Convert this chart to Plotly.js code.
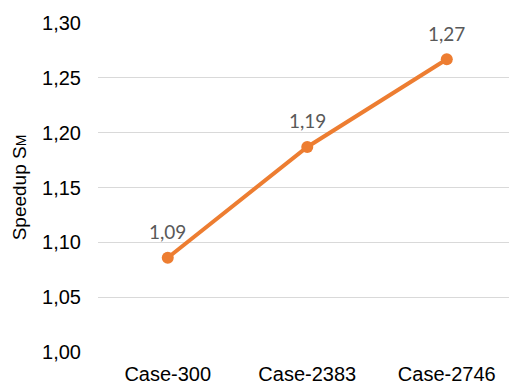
<!DOCTYPE html>
<html>
<head>
<meta charset="utf-8">
<script src="https://cdn.plot.ly/plotly-3.0.1.min.js"></script>
<style>html,body{margin:0;padding:0;background:#fff;}#chart{width:510px;height:386px;}</style>
</head>
<body>
<div id="chart"></div>
<script>
const categories = ["Case-300", "Case-2383", "Case-2746"];
const speedup = [1.086, 1.187, 1.267];
const yTicks = [1.00, 1.05, 1.10, 1.15, 1.20, 1.25, 1.30];

const trace = {
  x: categories,
  y: speedup,
  type: 'scatter',
  mode: 'lines+markers',
  line: {color: '#ED7D31', width: 4},
  marker: {color: '#ED7D31', size: 12},
  hoverinfo: 'none',
  cliponaxis: false
};

const fmt = v => v.toFixed(2).replace('.', ',');
const labels = categories.map((c, i) => ({
  x: c,
  y: speedup[i],
  xref: 'x',
  yref: 'y',
  text: fmt(speedup[i]),
  showarrow: false,
  xanchor: 'center',
  yanchor: 'middle',
  yshift: 26,
  font: {family: 'Lato, "Open Sans", sans-serif', size: 19, color: '#595959'}
}));

const layout = {
  width: 510,
  height: 386,
  margin: {l: 98, r: 1, t: 23, b: 34},
  paper_bgcolor: '#ffffff',
  plot_bgcolor: '#ffffff',
  separators: ', ',
  showlegend: false,
  font: {family: 'Arial, "Liberation Sans", sans-serif', color: '#000000'},
  annotations: labels,
  xaxis: {
    type: 'category',
    range: [-0.5, 2.446],
    showgrid: false,
    zeroline: false,
    showline: false,
    ticks: '',
    tickfont: {size: 20, color: '#000000'},
    ticklabelstandoff: 8
  },
  yaxis: {
    range: [1.0, 1.3001],
    tickvals: yTicks,
    tickformat: '.2f',
    showgrid: true,
    gridcolor: '#d9d9d9',
    gridwidth: 1,
    zeroline: false,
    showline: false,
    ticks: '',
    tickfont: {size: 20, color: '#000000'},
    ticklabelstandoff: 16,
    title: {
      text: 'Speedup S<span style="font-size:14px">M</span>',
      font: {size: 19, color: '#000000'},
      standoff: 10
    }
  }
};

Plotly.newPlot('chart', [trace], layout, {displayModeBar: false, staticPlot: true});
</script>
</body>
</html>
